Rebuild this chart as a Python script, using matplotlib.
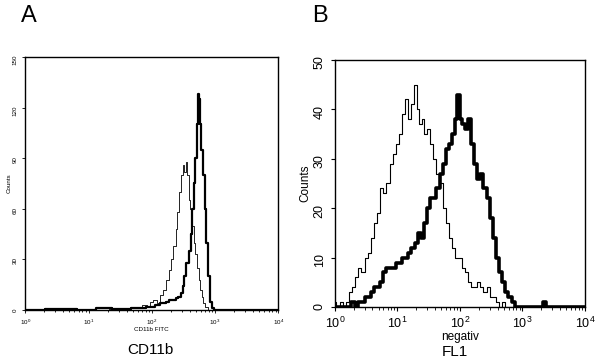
import matplotlib
matplotlib.use("Agg")
import matplotlib.pyplot as plt
import numpy as np

plt.rcParams["font.family"] = ["Liberation Sans", "DejaVu Sans"]

# Panel A (CD11b FITC), x in decades (log10), counts
a_thin_log = [0.0, 0.5, 1.0, 1.5, 1.7, 1.8, 1.9, 1.95, 2.0, 2.05, 2.1, 2.15, 2.2, 2.25, 2.28,
              2.32, 2.36, 2.39, 2.41, 2.44, 2.47, 2.5, 2.52, 2.55, 2.57, 2.6, 2.62, 2.65,
              2.68, 2.7, 2.73, 2.75, 2.78, 2.8, 2.83, 2.86, 2.9, 3.0, 4.0]
a_thin_cnt = [0, 0, 0, 0.5, 1, 2, 3, 2, 5, 6, 4, 9, 12, 18, 24,
              30, 38, 48, 58, 70, 80, 86, 82, 88, 80, 65, 60, 50,
              40, 33, 25, 18, 12, 8, 4, 2, 0, 0, 0]
a_thick_log = [0.0, 0.5, 1.0, 1.2, 1.5, 1.8, 2.0, 2.1, 2.15, 2.2, 2.25, 2.3, 2.35, 2.4,
               2.44, 2.47, 2.5, 2.53, 2.56, 2.6, 2.63, 2.65, 2.68, 2.7, 2.72, 2.73,
               2.75, 2.77, 2.79, 2.82, 2.85, 2.87, 2.9, 2.93, 2.96, 3.0, 4.0]
a_thick_cnt = [0, 0.5, 0, 1, 0.5, 1, 2, 3, 4, 4, 5, 6, 6, 7,
               8, 10, 14, 20, 28, 35, 45, 60, 75, 90, 110, 128,
               125, 110, 95, 80, 60, 40, 20, 5, 1, 0, 0]

# Panel B (FL1), x in decades (log10), counts
b_thin_log = [0.0, 0.05, 0.1, 0.15, 0.2, 0.25, 0.3, 0.35, 0.4, 0.45, 0.5, 0.55, 0.6, 0.65,
              0.7, 0.75, 0.8, 0.85, 0.9, 0.95, 1.0, 1.05, 1.1, 1.15, 1.2, 1.25, 1.29,
              1.33, 1.37, 1.41, 1.45, 1.5, 1.55, 1.6, 1.65, 1.7, 1.75, 1.8, 1.85, 1.9,
              1.95, 2.0, 2.05, 2.1, 2.15, 2.2, 2.25, 2.3, 2.35, 2.4, 2.45, 2.5, 2.55,
              2.6, 2.65, 2.7, 2.75, 2.8, 2.9, 3.0, 4.0]
b_thin_cnt = [1, 0, 1, 0, 1, 3, 4, 6, 8, 7, 10, 11, 14, 17,
              19, 24, 23, 25, 29, 31, 33, 35, 39, 42, 38, 41, 45,
              40, 37, 38, 35, 36, 33, 30, 27, 25, 20, 17, 14, 12,
              10, 10, 8, 7, 5, 4, 4, 5, 4, 3, 4, 2, 2,
              1, 0, 1, 0, 0, 0, 0, 0]
b_thick_log = [0.0, 0.2, 0.3, 0.35, 0.4, 0.45, 0.5, 0.55, 0.6, 0.65, 0.7, 0.75, 0.8,
               0.85, 0.9, 0.95, 1.0, 1.05, 1.1, 1.15, 1.2, 1.25, 1.3, 1.35, 1.4, 1.45,
               1.5, 1.55, 1.6, 1.65, 1.7, 1.75, 1.8, 1.85, 1.9, 1.94, 1.98, 2.02, 2.06,
               2.1, 2.15, 2.2, 2.25, 2.3, 2.35, 2.4, 2.45, 2.5, 2.55, 2.6, 2.65, 2.7,
               2.75, 2.8, 2.85, 2.9, 2.95, 3.0, 3.3, 3.35, 3.4, 4.0]
b_thick_cnt = [0, 0, 1, 0, 1, 1, 2, 2, 3, 4, 4, 5, 7,
               8, 8, 8, 9, 9, 10, 10, 11, 12, 13, 15, 14, 17,
               20, 22, 22, 24, 27, 29, 32, 33, 35, 38, 43, 38, 37,
               36, 38, 33, 29, 26, 27, 24, 22, 18, 14, 10, 7, 5,
               3, 2, 1, 0, 0, 0, 0, 1, 0, 0]


def draw_hist(ax, logx, counts, lw):
    x = np.power(10.0, logx)
    ax.step(x, counts, where="mid", color="black", linewidth=lw)


def style_axes(ax, ymax, yticks, tick_size):
    ax.set_xscale("log")
    ax.set_xlim(1, 1e4)
    ax.set_ylim(0, ymax)
    ax.set_yticks(yticks)
    ax.tick_params(axis="both", which="both", direction="out", labelsize=tick_size)
    ax.tick_params(axis="y", labelrotation=90)
    for s in ax.spines.values():
        s.set_linewidth(1.0)


fig = plt.figure(figsize=(6.0, 3.63), dpi=100)

ax_a = fig.add_axes([0.042, 0.146, 0.422, 0.697])
draw_hist(ax_a, a_thin_log, a_thin_cnt, 0.6)
draw_hist(ax_a, a_thick_log, a_thick_cnt, 1.6)
style_axes(ax_a, 150, [0, 30, 60, 90, 120, 150], 4.5)
ax_a.tick_params(length=2, width=0.6)
ax_a.tick_params(which="minor", length=1.2)
ax_a.set_xlabel("CD11b FITC", fontsize=4.5, labelpad=0)
ax_a.set_ylabel("Counts", fontsize=4.5, labelpad=1)

ax_b = fig.add_axes([0.558, 0.154, 0.417, 0.681])
draw_hist(ax_b, b_thin_log, b_thin_cnt, 0.8)
draw_hist(ax_b, b_thick_log, b_thick_cnt, 2.6)
style_axes(ax_b, 50, [0, 10, 20, 30, 40, 50], 9)
ax_b.tick_params(length=3, width=0.8)
ax_b.tick_params(which="minor", length=2)
ax_b.set_xlabel("negativ", fontsize=8.5, labelpad=0)
ax_b.set_ylabel("Counts", fontsize=8.5, labelpad=2)

fig.text(0.035, 0.955, "A", fontsize=17, va="center")
fig.text(0.52, 0.955, "B", fontsize=17, va="center")
fig.text(0.25, 0.035, "CD11b", fontsize=11, ha="center", va="center")
fig.text(0.758, 0.03, "FL1", fontsize=11, ha="center", va="center")

fig.savefig("out.png", dpi=100)
